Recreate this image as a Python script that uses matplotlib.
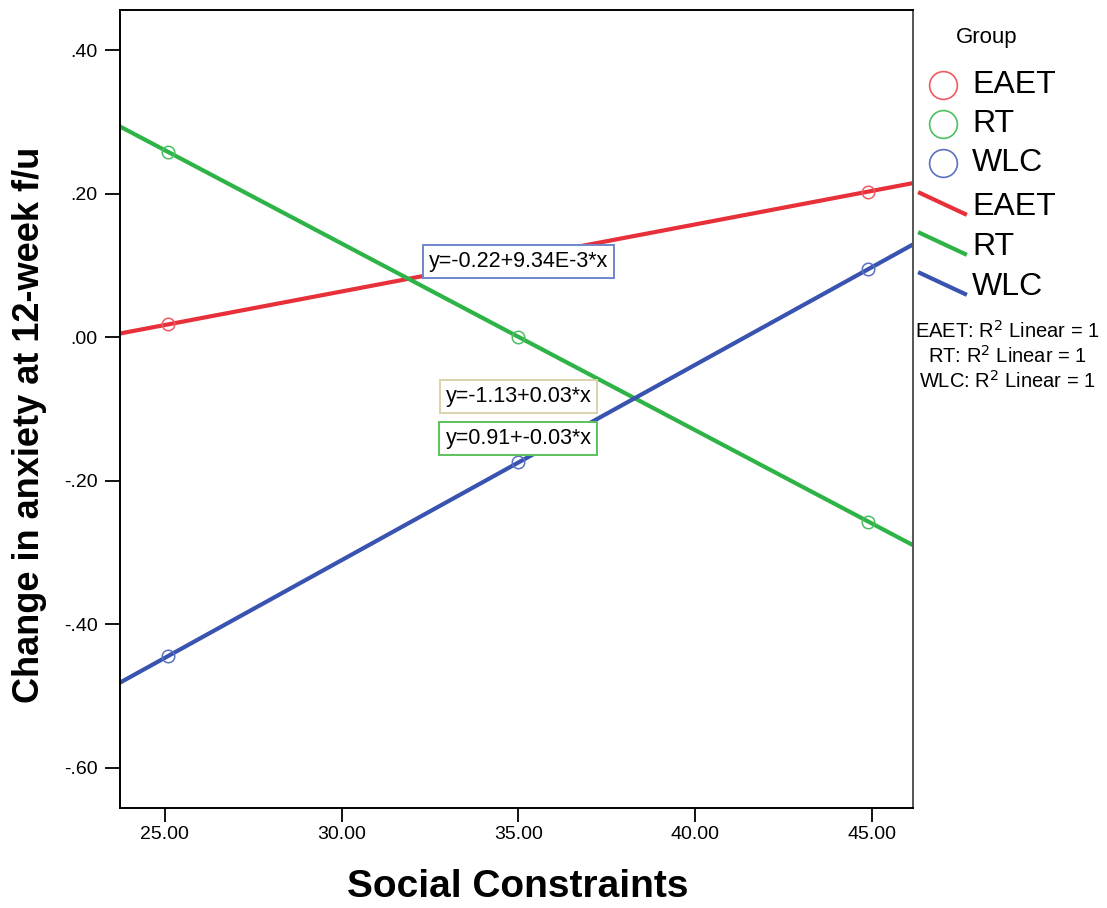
import numpy as np
import matplotlib
matplotlib.use("Agg")
import matplotlib.pyplot as plt
from matplotlib.lines import Line2D

plt.rcParams['font.family'] = ['Liberation Sans', 'DejaVu Sans']

# group means of anxiety change at three levels of social constraints
GROUPS = ['EAET', 'RT', 'WLC']
X_POINTS = [25.1, 35.0, 44.9]
EAET_Y = [0.018, 0.1105, 0.203]
RT_Y = [0.258, 0.0005, -0.257]
WLC_Y = [-0.444, -0.1745, 0.095]
SERIES = {'EAET': EAET_Y, 'RT': RT_Y, 'WLC': WLC_Y}

X_TICKS = [25, 30, 35, 40, 45]
Y_TICKS = [0.4, 0.2, 0.0, -0.2, -0.4, -0.6]

LINE_COL = {'EAET': '#e8303a', 'RT': '#2eb347', 'WLC': '#3953b0'}
MARK_COL = {'EAET': '#ef5a62', 'RT': '#4cc062', 'WLC': '#5a72c0'}
# fit-label box: (text centre y in data units, edge colour)
BOX = {'EAET': (0.106, '#6f86cc'), 'WLC': (-0.082, '#d8d2ac'), 'RT': (-0.141, '#5cc15c')}

W, H = 1107, 908
fig = plt.figure(figsize=(W / 100, H / 100), dpi=100)
ax = fig.add_axes([120 / W, 1 - 808 / H, (913 - 120) / W, (808 - 10) / H])
ax.set_xlim(23.73, 46.16)
ax.set_ylim(-0.656, 0.456)


def fmt_num(v):
    if v != 0 and abs(v) < 0.01:
        e = int(np.floor(np.log10(abs(v))))
        return f"{v / 10 ** e:.2f}E{e}"
    return f"{v:.2f}"


xs = np.array(ax.get_xlim())
for g in GROUPS:
    y = np.array(SERIES[g])
    slope, icpt = np.polyfit(X_POINTS, y, 1)
    ax.plot(xs, icpt + slope * xs, color=LINE_COL[g], lw=3.0, zorder=2,
            solid_capstyle='butt')
    ax.plot(X_POINTS, y, linestyle='none', marker='o', ms=9, mfc='none',
            mec=MARK_COL[g], mew=1.1, zorder=3)
    ty, ec = BOX[g]
    ax.text(35.0, ty, f"y={fmt_num(icpt)}+{fmt_num(slope)}*x", fontsize=15.5,
            ha='center', va='center', zorder=5,
            bbox=dict(boxstyle='square,pad=0.28', fc='white', ec=ec, lw=1.4))

ax.set_xticks(X_TICKS)
ax.set_xticklabels([f"{v:.2f}" for v in X_TICKS])
ax.set_yticks(Y_TICKS)
ax.set_yticklabels([f"{v:.2f}".replace('0.', '.') for v in Y_TICKS])
ax.tick_params(axis='y', direction='out', length=11, width=1.3, pad=5,
               labelsize=14)
ax.tick_params(axis='x', direction='out', length=10, width=1.3, pad=3,
               labelsize=14)
for s in ax.spines.values():
    s.set_linewidth(1.4)
ax.spines['right'].set_color('#555555')

fig.text(518 / W, 1 - 887 / H, 'Social Constraints', ha='center', va='center',
         fontsize=28, fontweight='bold')
fig.text(30 / W, 1 - 425 / H, 'Change in anxiety at 12-week f/u', ha='center',
         va='center', rotation=90, fontsize=26, fontweight='bold')

# legend to the right of the plot
fig.text(987 / W, 1 - 38 / H, 'Group', ha='center', va='center', fontsize=16)
for i, g in enumerate(GROUPS):
    yy = 1 - (85 + 39 * i) / H
    fig.add_artist(Line2D([943 / W], [yy], marker='o', ms=20, mfc='none',
                          mec=MARK_COL[g], mew=1.2, transform=fig.transFigure))
    fig.text(972 / W, yy, g, ha='left', va='center', fontsize=23)
for i, g in enumerate(GROUPS):
    y0 = 193 + 40 * i
    fig.add_artist(Line2D([920 / W, 965 / W], [1 - y0 / H, 1 - (y0 + 21) / H],
                          color=LINE_COL[g], lw=3.0, transform=fig.transFigure))
    fig.text(972 / W, 1 - (y0 + 14) / H, g, ha='left', va='center', fontsize=23)
for i, g in enumerate(GROUPS):
    fig.text(1007 / W, 1 - (331 + 25 * i) / H, f"{g}: R$^2$ Linear = 1",
             ha='center', va='center', fontsize=14.5)

fig.savefig('out.png', dpi=100)
